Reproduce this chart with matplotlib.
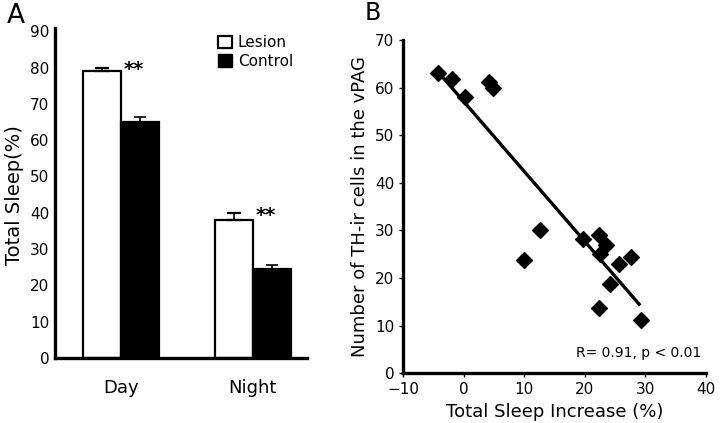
import matplotlib.pyplot as plt
from matplotlib.patches import Patch
import numpy as np

plt.rcParams['font.family'] = ['DejaVu Sans']

# Panel A data
periods = ['Day', 'Night']
lesion = [79, 38]
lesion_err = [1.0, 1.8]
control = [65, 24.5]
control_err = [1.3, 1.1]

# Panel B data
sleep_increase = [-4.2, -1.9, 0.2, 4.2, 4.9, 9.9, 12.6, 19.7, 22.4, 23.6,
                  22.5, 25.7, 27.7, 24.2, 22.4, 29.3]
th_cells = [63.1, 61.9, 58.1, 61.2, 60.0, 23.8, 30.0, 28.1, 29.0, 26.9,
            25.0, 23.0, 24.5, 18.8, 13.7, 11.1]
fit_x = [-4, 29]
fit_y = [63, 14.5]

fig = plt.figure(figsize=(7.2, 4.23), dpi=100)

# ---- Panel A
axA = fig.add_axes([0.076, 0.154, 0.35, 0.772])
x = np.arange(len(periods))
w = 0.288
axA.bar(x - w / 2, lesion, w, color='white', edgecolor='black', linewidth=1.6,
        yerr=[[0, 0], lesion_err], capsize=5, error_kw={'elinewidth': 1.2, 'capthick': 1.6})
axA.bar(x + w / 2, control, w, color='black', edgecolor='black', linewidth=1.6,
        yerr=[[0, 0], control_err], capsize=4, error_kw={'elinewidth': 1.2, 'capthick': 1.2})
for i in range(len(periods)):
    axA.annotate('**', (x[i], lesion[i] + lesion_err[i]), xytext=(2, -5.5),
                 textcoords='offset points', ha='left', va='baseline',
                 fontsize=14, fontweight='bold')

axA.set_xlim(-0.5, 1.409)
axA.set_ylim(0, 90)
axA.set_yticks(range(0, 91, 10))
axA.set_xticks(x)
axA.set_xticklabels(periods, fontsize=13)
axA.tick_params(axis='x', length=0, pad=15)
axA.tick_params(axis='y', length=0, labelsize=11, pad=4)
axA.set_ylabel('Total Sleep(%)', fontsize=14, labelpad=4)
for s in ['top', 'right']:
    axA.spines[s].set_visible(False)
for s in ['left', 'bottom']:
    axA.spines[s].set_linewidth(2.4)
axA.spines['left'].set_bounds(0, 91)

handles = [Patch(facecolor='white', edgecolor='black', linewidth=1.6, label='Lesion'),
           Patch(facecolor='black', edgecolor='black', label='Control')]
axA.legend(handles=handles, loc='upper right', bbox_to_anchor=(1.0, 1.03), frameon=False,
           fontsize=11, handlelength=0.9, handleheight=0.9, handletextpad=0.4,
           labelspacing=0.25)
fig.text(0.01, 0.962, 'A', fontsize=19, va='center', ha='left')

# ---- Panel B
axB = fig.add_axes([0.560, 0.118, 0.420, 0.787])
axB.plot(fit_x, fit_y, color='black', linewidth=2.4)
axB.scatter(sleep_increase, th_cells, marker='D', s=65, color='black', zorder=3)
axB.set_xlim(-10, 40)
axB.set_ylim(0, 70)
axB.set_xticks(range(-10, 41, 10))
axB.set_yticks(range(0, 71, 10))
axB.tick_params(labelsize=11, length=3, width=1)
axB.set_xlabel('Total Sleep Increase (%)', fontsize=13, labelpad=4)
axB.set_ylabel('Number of TH-ir cells in the vPAG', fontsize=13, labelpad=4)
for s in ['top', 'right']:
    axB.spines[s].set_visible(False)
for s in ['left', 'bottom']:
    axB.spines[s].set_linewidth(2.4)
axB.text(0.985, 0.06, 'R= 0.91, p < 0.01', transform=axB.transAxes,
         ha='right', va='center', fontsize=10)
fig.text(0.506, 0.97, 'B', fontsize=17, va='center', ha='left')

fig.savefig('out.png', dpi=100)
